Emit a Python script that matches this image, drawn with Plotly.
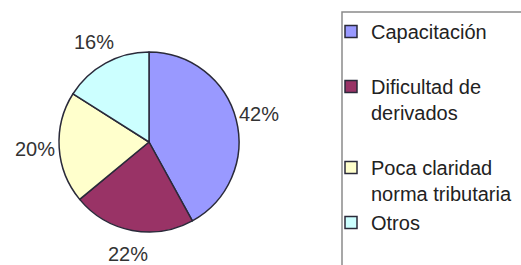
import math
import plotly.graph_objects as go

categories = ["Capacitación", "Dificultad de<br>derivados", "Poca claridad<br>norma tributaria", "Otros"]
values = [42, 22, 20, 16]
colors = ["#9999FF", "#993366", "#FFFFCC", "#CCFFFF"]

W, H = 521, 265
FONT = "Liberation Sans, Arial, sans-serif"

# legend labels (extra blank lines mimic the original legend spacing)
labels_legend = [categories[0] + "<br> ", categories[1] + "<br> ", categories[2], categories[3]]

# pie geometry in pixels
cx, cy, r = 149, 142, 90

fig = go.Figure(go.Pie(
    labels=labels_legend,
    values=values,
    sort=False,
    direction="clockwise",
    rotation=0,
    marker=dict(colors=colors, line=dict(color="#2a2a3a", width=1.5)),
    textinfo="none",
    domain=dict(x=[(cx - r) / W, (cx + r) / W], y=[(H - cy - r) / H, (H - cy + r) / H]),
    hoverinfo="skip",
))

# percentage labels placed outside each slice at its mid angle
total = sum(values)
annotations = []
cum = 0
R_lab = 114
for v in values:
    mid = (cum + v / 2) / total
    cum += v
    th = 2 * math.pi * mid
    px = cx + R_lab * math.sin(th)
    py = cy - R_lab * math.cos(th)
    annotations.append(dict(
        x=px / W, y=(H - py) / H, xref="paper", yref="paper",
        text=f"{round(100 * v / total)}%", showarrow=False,
        xanchor="center", yanchor="middle",
        font=dict(family=FONT, size=20, color="#333333"),
    ))

fig.update_layout(
    width=W, height=H,
    margin=dict(l=0, r=0, t=0, b=0, autoexpand=False),
    paper_bgcolor="white",
    plot_bgcolor="white",
    showlegend=True,
    annotations=annotations,
    legend=dict(
        x=331 / W, y=(H - 12) / H, xanchor="left", yanchor="top",
        valign="top",
        font=dict(family=FONT, size=20, color="#222222"),
        bgcolor="rgba(0,0,0,0)", borderwidth=0,
        tracegroupgap=0,
    ),
    shapes=[dict(type="rect", xref="paper", yref="paper",
                 x0=342 / W, x1=1.5, y0=-0.5, y1=(H - 12) / H,
                 line=dict(color="#8a8a8a", width=1.5), fillcolor="rgba(0,0,0,0)")],
)

fig.write_html(
    "out.html",
    config={"displayModeBar": False},
    post_script="document.body.style.margin='0';document.body.style.overflow='hidden';",
)
